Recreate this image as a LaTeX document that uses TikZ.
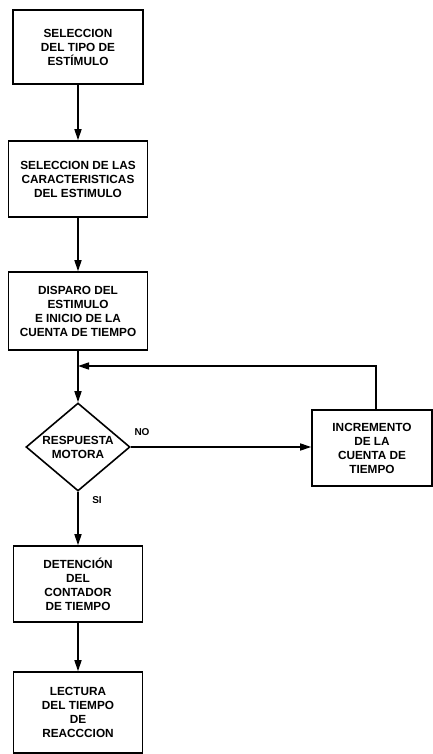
\documentclass[tikz,border=0pt]{standalone}
\usepackage{fontspec}
\setmainfont{Liberation Sans}
\usetikzlibrary{arrows.meta,shapes.geometric}
\begin{document}
\begin{tikzpicture}[x=1pt,y=-1pt,
  txt/.style={font=\fontsize{11.8}{14}\selectfont\bfseries, align=center},
  box/.style={draw, line width=1.6pt, inner sep=0pt, txt},
  arr/.style={line width=1.6pt, -{Triangle[length=11pt,width=7pt]}},
  ln/.style={line width=1.4pt}]
\useasboundingbox (0,0) rectangle (433,754);
\node[box, minimum width=130, minimum height=74] (b1) at (78,47) {SELECCION\\DEL TIPO DE\\ESTÍMULO};
\node[box, minimum width=139, minimum height=76] (b2) at (78,179) {SELECCION DE LAS\\CARACTERISTICAS\\DEL ESTIMULO};
\node[box, minimum width=139, minimum height=78] (b3) at (78,311) {DISPARO DEL\\ESTIMULO\\E INICIO DE LA\\CUENTA DE TIEMPO};
\node[draw, line width=1.6pt, shape=diamond, inner sep=0pt, minimum width=104, minimum height=88,
  label={[txt]center:RESPUESTA\\MOTORA}] (dm) at (78,447) {};
\node[box, minimum width=120, minimum height=76] (inc) at (372,448) {INCREMENTO\\DE LA\\CUENTA DE\\TIEMPO};
\node[box, minimum width=129, minimum height=76] (b4) at (78,584) {DETENCIÓN\\DEL\\CONTADOR\\DE TIEMPO};
\node[box, minimum width=129, minimum height=81] (b5) at (78,712.5) {LECTURA\\DEL TIEMPO\\DE\\REACCCION};
\node[txt, font=\fontsize{10}{12}\selectfont\bfseries] (no) at (142,432) {NO};
\node[txt, font=\fontsize{10}{12}\selectfont\bfseries] (si) at (97,500) {SI};
\coordinate (j) at (78,366);
\draw[arr] (b1) -- (b2);
\draw[arr] (b2) -- (b3);
\draw[arr] (b3) -- (dm.north);
\draw[arr] (dm.east) -- (inc.west |- dm.east);
\draw[arr] ([xshift=4pt]inc.north) |- (j);
\draw[arr] (dm.south) -- (b4);
\draw[arr] (b4) -- (b5);
\end{tikzpicture}
\end{document}
